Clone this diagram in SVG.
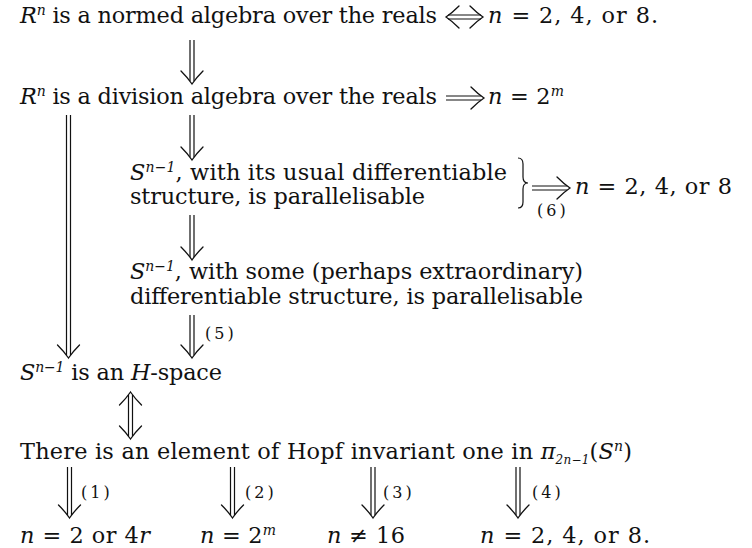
<svg xmlns="http://www.w3.org/2000/svg" width="752" height="548" viewBox="0 0 752 548">
<style>
text{font-family:"DejaVu Serif","Liberation Serif",serif;font-size:22.4px;fill:#111}
.i{font-style:italic}
.sup{font-size:14px;font-style:italic}
.sub{font-size:12px;font-style:italic}
.lb{font-size:16px;letter-spacing:3px}
.sh{fill:none;stroke:#111;stroke-width:1.2}
.hd{fill:none;stroke:#111;stroke-width:1.3;stroke-linecap:round}
</style>
<defs>
<path id="hd" class="hd" d="M-11,-13 Q-4,-6 0,0 Q4,-6 11,-13"/>
</defs>
<rect width="752" height="548" fill="#fff"/>

<g id="normed">
<text x="20" y="23" textLength="417" lengthAdjust="spacing"><tspan class="i">R</tspan><tspan class="sup" dy="-8">n</tspan><tspan dy="8"> is a normed algebra over the reals</tspan></text>
</g>
<g id="res-normed">
<text x="488" y="23" textLength="170" lengthAdjust="spacing"><tspan class="i">n</tspan> = 2, 4, or 8.</text>
</g>
<g id="division">
<text x="20" y="104" textLength="417" lengthAdjust="spacing"><tspan class="i">R</tspan><tspan class="sup" dy="-8">n</tspan><tspan dy="8"> is a division algebra over the reals</tspan></text>
</g>
<g id="res-division">
<text x="488" y="104" textLength="76" lengthAdjust="spacing"><tspan class="i">n</tspan> = 2<tspan class="sup" dy="-8">m</tspan></text>
</g>
<g id="usual">
<text x="130" y="180" textLength="377" lengthAdjust="spacing"><tspan class="i">S</tspan><tspan class="sup" dy="-8">n−1</tspan><tspan dy="8">, with its usual differentiable</tspan></text>
<text x="130" y="204" textLength="295" lengthAdjust="spacing">structure, is parallelisable</text>
</g>
<g id="res-usual">
<text x="575" y="194" textLength="157" lengthAdjust="spacing"><tspan class="i">n</tspan> = 2, 4, or 8</text>
</g>
<g id="some">
<text x="130" y="279" textLength="453" lengthAdjust="spacing"><tspan class="i">S</tspan><tspan class="sup" dy="-8">n−1</tspan><tspan dy="8">, with some (perhaps extraordinary)</tspan></text>
<text x="130" y="304" textLength="453" lengthAdjust="spacing">differentiable structure, is parallelisable</text>
</g>
<g id="hspace">
<text x="20" y="380" textLength="202" lengthAdjust="spacing"><tspan class="i">S</tspan><tspan class="sup" dy="-8">n−1</tspan><tspan dy="8"> is an </tspan><tspan class="i">H</tspan>-space</text>
</g>
<g id="hopf">
<text x="20" y="459" textLength="612" lengthAdjust="spacing">There is an element of Hopf invariant one in <tspan class="i">π</tspan><tspan class="sub" dy="5">2n−1</tspan><tspan dy="-5">(</tspan><tspan class="i">S</tspan><tspan class="sup" dy="-8">n</tspan><tspan dy="8">)</tspan></text>
</g>
<g id="r1"><text x="20" y="543" textLength="130" lengthAdjust="spacing"><tspan class="i">n</tspan> = 2 or 4<tspan class="i">r</tspan></text></g>
<g id="r2"><text x="200" y="543" textLength="76" lengthAdjust="spacing"><tspan class="i">n</tspan> = 2<tspan class="sup" dy="-8">m</tspan></text></g>
<g id="r3"><text x="327" y="543" textLength="78" lengthAdjust="spacing"><tspan class="i">n</tspan> ≠ 16</text></g>
<g id="r4"><text x="480" y="543" textLength="170" lengthAdjust="spacing"><tspan class="i">n</tspan> = 2, 4, or 8.</text></g>

<g id="connectors">
<path class="sh" d="M448,15 H481 M448,19 H481"/>
<use href="#hd" transform="translate(483,17) rotate(-90)"/>
<use href="#hd" transform="translate(446,17) rotate(90)"/>
<path class="sh" d="M446,96 H481 M446,100 H481"/>
<use href="#hd" transform="translate(484,98) rotate(-90)"/>
<path class="sh" d="M532,186 H567 M532,190 H567"/>
<use href="#hd" transform="translate(570,188) rotate(-90)"/>
<text class="lb" x="537" y="216">(6)</text>
<path class="sh" d="M518,158 Q523,158 523,164 L523,177 Q523,183 528,183 Q523,183 523,189 L523,202 Q523,208 518,208"/>
<path class="sh" d="M190,40 V81 M194,40 V81"/>
<use href="#hd" transform="translate(192,84)"/>
<path class="sh" d="M66.5,115 V355 M70.5,115 V355"/>
<use href="#hd" transform="translate(68.5,358)"/>
<path class="sh" d="M190,115 V157 M194,115 V157"/>
<use href="#hd" transform="translate(192,160)"/>
<path class="sh" d="M190,215 V257 M194,215 V257"/>
<use href="#hd" transform="translate(192,260)"/>
<path class="sh" d="M190,315 V355 M194,315 V355"/>
<use href="#hd" transform="translate(192,358)"/>
<text class="lb" x="205" y="339">(5)</text>
<path class="sh" d="M128.5,395 V436 M132.5,395 V436"/>
<use href="#hd" transform="translate(130.5,392) rotate(180)"/>
<use href="#hd" transform="translate(130.5,439)"/>
<path class="sh" d="M67.5,467 V515 M71.5,467 V515"/>
<use href="#hd" transform="translate(69.5,518)"/>
<text class="lb" x="81" y="498">(1)</text>
<path class="sh" d="M230.5,467 V515 M234.5,467 V515"/>
<use href="#hd" transform="translate(232.5,518)"/>
<text class="lb" x="245" y="498">(2)</text>
<path class="sh" d="M371,467 V515 M375,467 V515"/>
<use href="#hd" transform="translate(373,518)"/>
<text class="lb" x="383" y="498">(3)</text>
<path class="sh" d="M516,467 V515 M520,467 V515"/>
<use href="#hd" transform="translate(518,518)"/>
<text class="lb" x="532" y="498">(4)</text>
</g>
</svg>
